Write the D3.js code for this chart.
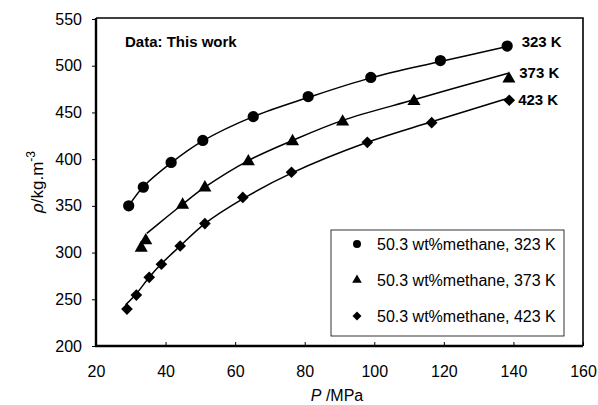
<!DOCTYPE html>
<html lang="en">
  <head>
    <meta charset="utf-8" />
    <title>Density vs pressure</title>
    <script src="https://d3js.org/d3.v7.min.js"></script>
    <style>
      body { margin: 0; background: #fff; }
      text { font-family: "Liberation Sans", Arial, sans-serif; }
    </style>
  </head>
  <body>
    <div id="chart"></div>
    <script>
      const p323 = [29.4, 33.6, 41.6, 50.7, 65.2, 81.0, 99.0, 119.0, 138.2];
      const rho323 = [350, 370, 396.5, 420, 445.5, 467, 487.5, 505.5, 521];
      const p373 = [33.0, 34.3, 44.9, 51.3, 63.8, 76.5, 90.9, 111.4, 138.7];
      const rho373 = [305, 313, 351, 369.5, 397.5, 419, 440, 462, 486];
      const p423 = [28.9, 31.6, 35.3, 38.8, 44.2, 51.3, 62.2, 76.2, 98.0, 116.5, 138.8];
      const rho423 = [239.5, 254.5, 273.5, 287.5, 307, 331, 359, 386, 418, 439, 463];

      // fitted curves
      const fitP323 = [29.4, 33.6, 41.6, 50.7, 65.2, 81.0, 99.0, 119.0, 138.2];
      const fitRho323 = [350, 370.5, 396, 419.5, 445.5, 466, 487, 504.5, 520.5];
      const fitP373 = [34.6, 40, 45, 51.3, 63.8, 76.5, 90.9, 111.4, 125, 138.5];
      const fitRho373 = [320.5, 337, 352, 370, 398.5, 420, 441.5, 463.5, 478, 492];
      const fitP423 = [28.5, 31.6, 35.3, 38.8, 44.2, 51.3, 62.2, 76.2, 98.0, 116.5, 138.2];
      const fitRho423 = [244, 256, 273.5, 288, 307, 331, 357.5, 385, 418, 440, 465];

      const seriesNames = ["50.3 wt%methane, 323 K", "50.3 wt%methane, 373 K", "50.3 wt%methane, 423 K"];
      const endLabels = ["323 K", "373 K", "423 K"];
      const xTicks = [20, 40, 60, 80, 100, 120, 140, 160];
      const yTicks = [200, 250, 300, 350, 400, 450, 500, 550];

      const width = 598, height = 405;
      const margin = { top: 19, right: 15, bottom: 59, left: 96 };

      const x = d3.scaleLinear().domain([20, 160]).range([margin.left, width - margin.right]);
      const y = d3.scaleLinear().domain([200, 550]).range([height - margin.bottom, margin.top]);

      const svg = d3.select("#chart").append("svg")
        .attr("width", width).attr("height", height);

      const zip = (a, b) => a.map((v, i) => [v, b[i]]);
      const series = [
        { pts: zip(p323, rho323), fit: zip(fitP323, fitRho323), sym: d3.symbolCircle, size: 100, lsize: 50, rot: 0, lab: [14.5, 0.5] },
        { pts: zip(p373, rho373), fit: zip(fitP373, fitRho373), sym: d3.symbolTriangle, size: 74, lsize: 40, rot: 0, lab: [11, 5] },
        { pts: zip(p423, rho423), fit: zip(fitP423, fitRho423), sym: d3.symbolSquare, size: 68, lsize: 40, rot: 45, lab: [11, 7] }
      ];

      // axes
      svg.append("g")
        .attr("transform", `translate(0,${y(200)})`)
        .call(d3.axisBottom(x).tickValues(xTicks).tickSizeInner(-4).tickSizeOuter(0).tickPadding(20))
        .call(g => g.select(".domain").remove())
        .call(g => g.selectAll("text").attr("font-size", 16).attr("fill", "#000"));

      svg.append("g")
        .attr("transform", `translate(${x(20)},0)`)
        .call(d3.axisLeft(y).tickValues(yTicks).tickSizeInner(4).tickSizeOuter(0).tickPadding(10))
        .call(g => g.select(".domain").remove())
        .call(g => g.selectAll("text").attr("font-size", 16).attr("fill", "#000"));

      // plot frame
      svg.append("path")
        .attr("d", `M${x(20)},${y(550) - 1}H${x(160)}V${y(200)}`)
        .attr("fill", "none").attr("stroke", "#000").attr("stroke-width", 1.6);
      svg.append("path")
        .attr("d", `M${x(20)},${y(550) - 1}V${y(200)}H${x(160)}`)
        .attr("fill", "none").attr("stroke", "#000").attr("stroke-width", 2.4);

      const line = d3.line().x(d => x(d[0])).y(d => y(d[1])).curve(d3.curveCatmullRom.alpha(0.5));

      series.forEach((s, i) => {
        svg.append("path").datum(s.fit)
          .attr("d", line)
          .attr("fill", "none").attr("stroke", "#000").attr("stroke-width", 1.5);
        svg.append("g").selectAll("path").data(s.pts).join("path")
          .attr("d", d3.symbol().type(s.sym).size(s.size))
          .attr("transform", d => `translate(${x(d[0])},${y(d[1])}) rotate(${s.rot})`)
          .attr("fill", "#000");
        const last = s.fit[s.fit.length - 1];
        svg.append("text")
          .attr("x", x(last[0]) + s.lab[0]).attr("y", y(last[1]) + s.lab[1])
          .attr("font-size", 15).attr("font-weight", "bold")
          .text(endLabels[i]);
      });

      svg.append("text")
        .attr("x", 125).attr("y", 47)
        .attr("font-size", 15).attr("font-weight", "bold")
        .text("Data: This work");

      // legend
      const lg = svg.append("g").attr("transform", "translate(331,230)");
      lg.append("rect").attr("width", 233).attr("height", 106)
        .attr("fill", "#fff").attr("stroke", "#000").attr("stroke-width", 0.8);
      seriesNames.forEach((name, i) => {
        const row = lg.append("g").attr("transform", `translate(0,${14 + i * 36})`);
        row.append("path")
          .attr("d", d3.symbol().type(series[i].sym).size(series[i].lsize))
          .attr("transform", `translate(26,0) rotate(${series[i].rot})`).attr("fill", "#000");
        row.append("text").attr("x", 46).attr("y", 6)
          .attr("font-size", 16).text(name);
      });

      // axis titles
      const xt = svg.append("text")
        .attr("x", 337).attr("y", 401)
        .attr("text-anchor", "middle").attr("font-size", 16);
      xt.append("tspan").attr("font-style", "italic").text("P");
      xt.append("tspan").text(" /MPa");

      const yt = svg.append("text")
        .attr("transform", "translate(43,182) rotate(-90)")
        .attr("text-anchor", "middle").attr("font-size", 17);
      yt.append("tspan").attr("font-style", "italic").text("ρ");
      yt.append("tspan").text("/kg.m");
      yt.append("tspan").attr("font-size", 12).attr("dy", -8).text("-3");
    </script>
  </body>
</html>
